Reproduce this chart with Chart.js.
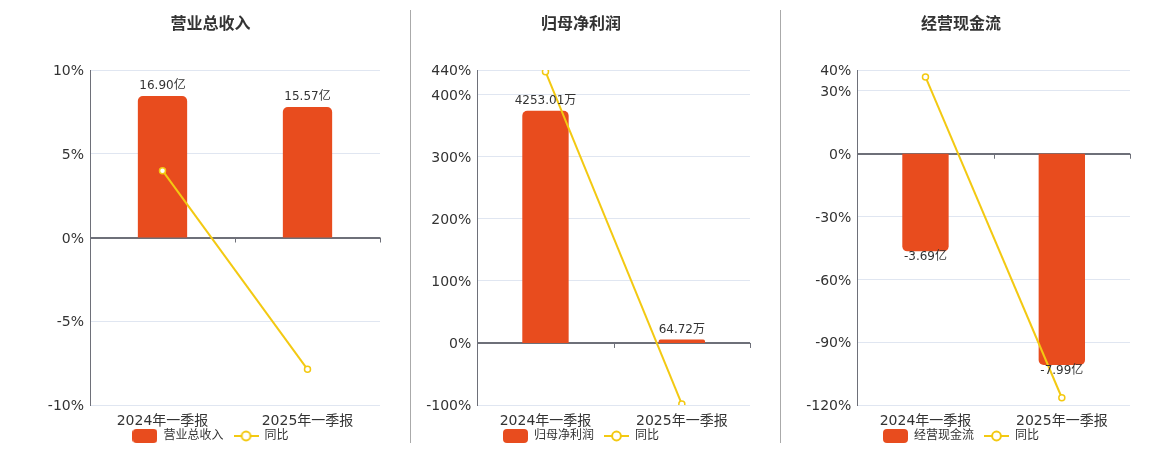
<!DOCTYPE html>
<html>
<head>
<meta charset="utf-8">
<script src="https://cdn.jsdelivr.net/npm/chart.js@4.4.1/dist/chart.umd.min.js"></script>
<style>
  html, body { margin: 0; padding: 0; background: #fff; overflow: hidden; }
  #wrap { position: relative; width: 1160px; height: 450px; }
  .panel { position: absolute; top: 0; height: 450px; }
  .sep { position: absolute; top: 10px; width: 1px; height: 433px; background: #aaa; }
</style>
</head>
<body>
<div id="wrap">
  <div class="panel" style="left:0;width:420px"><canvas id="revenue"></canvas></div>
  <div class="panel" style="left:391px;width:380px"><canvas id="profit"></canvas></div>
  <div class="panel" style="left:771px;width:380px"><canvas id="cash"></canvas></div>
  <div class="sep" style="left:410px"></div>
  <div class="sep" style="left:780px"></div>
</div>
<script>
const categories = ['2024年一季报', '2025年一季报'];

const revenueValues = [16.90, 15.57];   // 亿
const revenueYoy = [3.99, -7.87];       // %
const revenueTicks = [-10, -5, 0, 5, 10];
const revenueBarRange = [-20, 20];

const profitValues = [4253.01, 64.72];  // 万
const profitYoy = [437.2, -98.48];
const profitTicks = [-100, 0, 100, 200, 300, 400, 440];
const profitBarRange = [-5000 * 100 / 440, 5000];

const cashValues = [-3.69, -7.99];      // 亿
const cashYoy = [36.7, -116.53];
const cashTicks = [-120, -90, -60, -30, 0, 30, 40];
const cashBarRange = [-9.5, 9.5 * 40 / 120];

const BAR_COLOR = '#E84C1E';
const LINE_COLOR = '#F3C912';
const AXIS_COLOR = '#6e7079';
const GRID_COLOR = '#e0e6f1';
const TEXT_COLOR = '#333';

Chart.defaults.font.family = '"DejaVu Sans", "Noto Sans CJK SC", sans-serif';

// legend icons
function barIcon() {
    const c = document.createElement('canvas');
    c.width = 25; c.height = 14;
    const g = c.getContext('2d');
    g.fillStyle = BAR_COLOR;
    g.beginPath();
    g.roundRect(0, 0, 25, 14, 4);
    g.fill();
    return c;
}
function lineIcon() {
    const c = document.createElement('canvas');
    c.width = 25; c.height = 14;
    const g = c.getContext('2d');
    g.strokeStyle = LINE_COLOR;
    g.lineWidth = 2;
    g.beginPath();
    g.moveTo(0, 7); g.lineTo(25, 7);
    g.stroke();
    g.beginPath();
    g.arc(12.5, 7, 4.4, 0, Math.PI * 2);
    g.fillStyle = '#fff';
    g.fill();
    g.stroke();
    return c;
}

const valueLabels = {
    id: 'valueLabels',
    afterDatasetsDraw(chart, args, opts) {
        const ctx = chart.ctx;
        const meta = chart.getDatasetMeta(0);
        const values = chart.data.datasets[0].data;
        ctx.save();
        ctx.font = '12px "DejaVu Sans", "Noto Sans CJK SC", sans-serif';
        ctx.fillStyle = TEXT_COLOR;
        ctx.textAlign = 'center';
        meta.data.forEach((bar, i) => {
            const v = values[i];
            const text = v.toFixed(2) + opts.unit;
            if (v >= 0) {
                ctx.textBaseline = 'bottom';
                ctx.fillText(text, bar.x, bar.y - 4);
            } else {
                ctx.textBaseline = 'middle';
                ctx.fillText(text, bar.x, bar.y + 6);
            }
        });
        ctx.restore();
    }
};

// small ticks hanging under the zero line at category boundaries
const zeroTicks = {
    id: 'zeroTicks',
    afterDatasetsDraw(chart) {
        const ctx = chart.ctx;
        const x = chart.scales.x;
        const y0 = chart.scales.y.getPixelForValue(0);
        const marks = [];
        for (let i = 0; i < categories.length - 1; i++) {
            marks.push((x.getPixelForTick(i) + x.getPixelForTick(i + 1)) / 2);
        }
        marks.push(chart.chartArea.right);
        ctx.save();
        ctx.strokeStyle = AXIS_COLOR;
        ctx.lineWidth = 1;
        marks.forEach(px => {
            const xx = Math.round(px) + 0.5;
            ctx.beginPath();
            ctx.moveTo(xx, y0);
            ctx.lineTo(xx, y0 + 5);
            ctx.stroke();
        });
        ctx.restore();
    }
};

function buildChart(id, cfg) {
    const icons = [barIcon(), lineIcon()];
    return new Chart(document.getElementById(id), {
        data: {
            labels: categories,
            datasets: [{
                type: 'bar',
                label: cfg.name,
                data: cfg.values,
                yAxisID: 'y1',
                backgroundColor: BAR_COLOR,
                borderRadius: 5,
                borderSkipped: 'start',
                barPercentage: 0.34,
                categoryPercentage: 1,
                order: 2
            }, {
                type: 'line',
                label: '同比',
                data: cfg.yoy,
                yAxisID: 'y',
                borderColor: LINE_COLOR,
                borderWidth: 2,
                pointRadius: 3,
                pointBackgroundColor: '#fff',
                pointBorderColor: LINE_COLOR,
                pointBorderWidth: 1.5,
                tension: 0,
                order: 1
            }]
        },
        options: {
            responsive: true,
            maintainAspectRatio: false,
            animation: false,
            layout: { padding: { left: cfg.padLeft, right: cfg.padRight, top: 0, bottom: -2 } },
            plugins: {
                title: {
                    display: true,
                    text: cfg.name,
                    color: TEXT_COLOR,
                    font: { size: 16, weight: 'bold' },
                    padding: { top: 15, bottom: 35.8 }
                },
                legend: {
                    position: 'bottom',
                    labels: {
                        usePointStyle: true,
                        pointStyleWidth: 25,
                        padding: 10,
                        color: TEXT_COLOR,
                        font: { size: 12 },
                        generateLabels: chart => chart.data.datasets.map((ds, i) => ({
                            text: ds.label,
                            pointStyle: icons[i],
                            fillStyle: i === 0 ? BAR_COLOR : LINE_COLOR,
                            strokeStyle: i === 0 ? BAR_COLOR : LINE_COLOR,
                            lineWidth: 0,
                            fontColor: TEXT_COLOR,
                            hidden: false,
                            datasetIndex: i
                        }))
                    }
                },
                tooltip: { enabled: false },
                valueLabels: { unit: cfg.unit }
            },
            scales: {
                x: {
                    grid: { display: false },
                    border: { display: false },
                    ticks: { color: TEXT_COLOR, font: { size: 14 }, padding: 0 },
                    afterFit: s => {
                        s.height = 15;
                        // let the labels spill over the thin axis box
                        s._computeLabelArea = () => null;
                    }
                },
                y: {
                    position: 'left',
                    min: cfg.ticks[0],
                    max: cfg.ticks[cfg.ticks.length - 1],
                    afterBuildTicks: s => { s.ticks = cfg.ticks.map(v => ({ value: v })); },
                    afterFit: s => { s.width = cfg.axisWidth; },
                    grid: {
                        drawTicks: false,
                        color: c => (c.tick && c.tick.value === 0) ? AXIS_COLOR : GRID_COLOR,
                        lineWidth: c => (c.tick && c.tick.value === 0) ? 2 : 1
                    },
                    border: { display: true, color: AXIS_COLOR, width: 1 },
                    ticks: {
                        autoSkip: false,
                        color: TEXT_COLOR,
                        font: { size: 14 },
                        padding: 6,
                        labelOffset: 1.5,
                        callback: v => v + '%'
                    }
                },
                y1: {
                    display: false,
                    min: cfg.barRange[0],
                    max: cfg.barRange[1]
                }
            }
        },
        plugins: [valueLabels, zeroTicks]
    });
}

buildChart('revenue', {
    name: '营业总收入', unit: '亿',
    values: revenueValues, yoy: revenueYoy, ticks: revenueTicks, barRange: revenueBarRange,
    padLeft: 41, padRight: 40, axisWidth: 49
});
buildChart('profit', {
    name: '归母净利润', unit: '万',
    values: profitValues, yoy: profitYoy, ticks: profitTicks, barRange: profitBarRange,
    padLeft: 21, padRight: 21, axisWidth: 65.3
});
buildChart('cash', {
    name: '经营现金流', unit: '亿',
    values: cashValues, yoy: cashYoy, ticks: cashTicks, barRange: cashBarRange,
    padLeft: 21, padRight: 21, axisWidth: 65.3
});
</script>
</body>
</html>
